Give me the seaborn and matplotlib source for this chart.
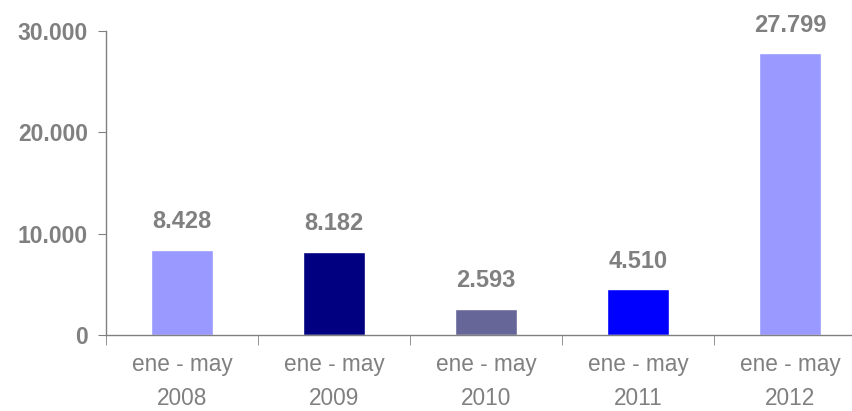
import numpy as np
import pandas as pd
import matplotlib
matplotlib.use('Agg')
import matplotlib.pyplot as plt
import seaborn as sns

periodos = ['ene - may\n2008', 'ene - may\n2009', 'ene - may\n2010', 'ene - may\n2011', 'ene - may\n2012']
valores = [8428, 8182, 2593, 4510, 27799]
colores = ['#9999FF', '#000080', '#666699', '#0000FF', '#9999FF']
yticks = [0, 10000, 20000, 30000]

df = pd.DataFrame({'periodo': periodos, 'valor': valores})

sns.set_style('white')
plt.rcParams['font.family'] = ['Liberation Sans', 'DejaVu Sans']
gris = '#808080'

fig = plt.figure(figsize=(8.52, 4.11), dpi=100)
ax = fig.add_axes([106 / 852, 1 - 335 / 411, 760 / 852, (335 - 31) / 411])

sns.barplot(data=df, x='periodo', y='valor', hue='periodo', palette=colores,
            width=0.41, legend=False, ax=ax, saturation=1)

ax.set_xlim(-0.5, len(periodos) - 0.5)
ax.set_ylim(0, 30000)
ax.set_yticks(yticks)
ax.set_yticklabels(['{:,}'.format(v).replace(',', '.') for v in yticks],
                   fontsize=16.5, fontweight='bold', color=gris)
ax.set_xticks(range(len(periodos)))
ax.set_xticklabels(periodos, fontsize=16.3, color=gris, linespacing=1.6)
ax.set_xticks(np.arange(-0.5, len(periodos), 1), minor=True)
ax.tick_params(axis='x', which='major', length=0, pad=13)
ax.tick_params(axis='x', which='minor', length=7, color=gris, direction='out', bottom=True)
ax.tick_params(axis='y', length=6, color=gris, direction='out', left=True, pad=7)

for s in ['top', 'right']:
    ax.spines[s].set_visible(False)
for s in ['left', 'bottom']:
    ax.spines[s].set_color(gris)
    ax.spines[s].set_linewidth(1)

ax.set_xlabel('')
ax.set_ylabel('')

for i, v in enumerate(valores):
    ax.annotate('{:,}'.format(v).replace(',', '.'), (i, v), xytext=(0, 12),
                textcoords='offset points', ha='center', va='bottom',
                fontsize=17, fontweight='bold', color=gris)

fig.savefig('out.png', dpi=100)
